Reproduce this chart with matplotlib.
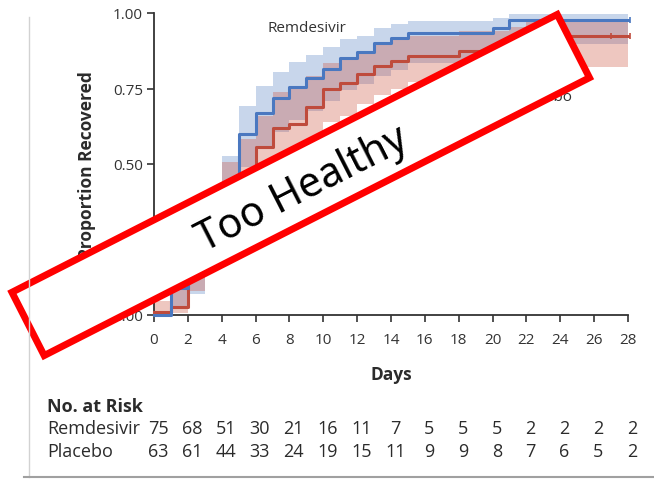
import numpy as np
import matplotlib
matplotlib.use("Agg")
import matplotlib.pyplot as plt
from matplotlib.patches import Polygon
from matplotlib.lines import Line2D

plt.rcParams['font.family'] = ['Open Sans', 'DejaVu Sans']

# Kaplan-Meier style recovery curves, one value per day (step "post")
days = list(range(29))
remdesivir = [0.00, 0.09, 0.15, 0.27, 0.42, 0.60, 0.668, 0.72, 0.755, 0.785,
              0.815, 0.85, 0.87, 0.90, 0.918, 0.935, 0.935, 0.935, 0.935, 0.935,
              0.949, 0.976, 0.976, 0.976, 0.976, 0.976, 0.976, 0.976, 0.976]
remdesivir_hi = [0.01, 0.16, 0.25, 0.38, 0.527, 0.693, 0.757, 0.806, 0.839, 0.861,
                 0.886, 0.914, 0.925, 0.949, 0.964, 0.972, 0.972, 0.972, 0.972, 0.972,
                 0.983, 0.997, 0.997, 0.997, 0.997, 0.997, 0.997, 0.997, 0.997]
remdesivir_lo = [0.00, 0.02, 0.07, 0.17, 0.31, 0.49, 0.56, 0.605, 0.645, 0.675,
                 0.71, 0.745, 0.765, 0.79, 0.81, 0.835, 0.835, 0.835, 0.835, 0.835,
                 0.85, 0.897, 0.897, 0.897, 0.897, 0.897, 0.897, 0.897, 0.897]

placebo = [0.011, 0.025, 0.14, 0.25, 0.40, 0.45, 0.555, 0.62, 0.633, 0.69,
           0.748, 0.768, 0.798, 0.826, 0.842, 0.857, 0.857, 0.857, 0.873, 0.873,
           0.873, 0.905, 0.923, 0.923, 0.923, 0.923, 0.923, 0.923, 0.923]
placebo_hi = [0.047, 0.10, 0.24, 0.36, 0.506, 0.583, 0.66, 0.74, 0.75, 0.79,
              0.835, 0.85, 0.875, 0.90, 0.915, 0.925, 0.925, 0.925, 0.94, 0.94,
              0.94, 0.955, 0.969, 0.969, 0.969, 0.969, 0.969, 0.969, 0.969]
placebo_lo = [0.00, 0.005, 0.08, 0.16, 0.28, 0.33, 0.43, 0.50, 0.52, 0.58,
              0.64, 0.66, 0.70, 0.73, 0.75, 0.77, 0.77, 0.77, 0.79, 0.79,
              0.80, 0.81, 0.82, 0.82, 0.82, 0.82, 0.82, 0.82, 0.82]

x_ticks = list(range(0, 29, 2))
y_ticks = [0.00, 0.25, 0.50, 0.75, 1.00]
y_tick_labels = ["0.00", "0.25", "0.50", "0.75", "1.00"]

risk_days = x_ticks
risk_remdesivir = [75, 68, 51, 30, 21, 16, 11, 7, 5, 5, 5, 2, 2, 2, 2]
risk_placebo = [63, 61, 44, 33, 24, 19, 15, 11, 9, 9, 8, 7, 6, 5, 2]

blue = "#4a78c0"
red = "#bf4b3c"
ink = "#2b2b2b"

W, H = 654, 481
fig = plt.figure(figsize=(W / 100, H / 100), dpi=100)

# main plotting area in pixel terms
left, right, top, bottom = 154, 628, 14, 316
ax = fig.add_axes([left / W, (H - bottom) / H, (right - left) / W, (bottom - top) / H])

ax.fill_between(days, remdesivir_lo, remdesivir_hi, step="post",
                color=(74/255, 120/255, 192/255), alpha=0.30, lw=0, zorder=1)
ax.fill_between(days, placebo_lo, placebo_hi, step="post",
                color=(205/255, 85/255, 65/255), alpha=0.33, lw=0, zorder=2)
ax.step(days, remdesivir, where="post", color=blue, lw=2.2, zorder=4, clip_on=False)
ax.step(days, placebo, where="post", color=red, lw=2.2, zorder=3, clip_on=False)

# censoring marks
ax.plot([28.1], [remdesivir[-1]], marker="|", ms=5, mew=1.2, color=blue, clip_on=False, zorder=5)
ax.plot([27, 28.1], [placebo[-1], placebo[-1]], ls="none", marker="|", ms=5, mew=1.2,
        color=red, clip_on=False, zorder=5)

ax.set_xlim(0, 28)
ax.set_ylim(0, 1.0)
ax.set_xticks(x_ticks)
ax.set_yticks(y_ticks)
ax.set_yticklabels(y_tick_labels)
for s in ("top", "right"):
    ax.spines[s].set_visible(False)
for s in ("left", "bottom"):
    ax.spines[s].set_color("#333333")
    ax.spines[s].set_linewidth(1.3)
ax.tick_params(direction="out", length=5, width=1.2, color="#333333",
               labelsize=11, labelcolor="#333333", pad=3)
ax.tick_params(axis="x", pad=7)
ax.set_xlabel("Days", fontsize=12.5, fontweight="bold", color=ink, labelpad=13)
ax.set_ylabel("Proportion Recovered", fontsize=12.5, fontweight="bold", color=ink, labelpad=12)

ax.text((268 - 154) / 16.93, 0.952, "Remdesivir", fontsize=11, color="#333333",
        ha="left", va="center")
ax.text((573 - 154) / 16.93, (316 - 98) / 302, "Placebo", fontsize=11, color="#333333",
        ha="right", va="center")

# number at risk table
xt = ax.get_xaxis_transform()
def row_y(py):
    return (bottom - py) / (bottom - top)

fig.text(47 / W, 1 - 407 / H, "No. at Risk", fontsize=13, fontweight="bold",
         color=ink, ha="left", va="center")
fig.text(47 / W, 1 - 429 / H, "Remdesivir", fontsize=13, color=ink, ha="left", va="center")
fig.text(47 / W, 1 - 452 / H, "Placebo", fontsize=13, color=ink, ha="left", va="center")
for d, a, b in zip(risk_days, risk_remdesivir, risk_placebo):
    ax.text(d + 0.25, row_y(429), str(a), transform=xt, fontsize=13, color=ink,
            ha="center", va="center", clip_on=False)
    ax.text(d + 0.25, row_y(452), str(b), transform=xt, fontsize=13, color=ink,
            ha="center", va="center", clip_on=False)

# pixel-space overlay: frame lines and the rotated stamp
ov = fig.add_axes([0, 0, 1, 1], zorder=10)
ov.set_xlim(0, W)
ov.set_ylim(H, 0)
ov.axis("off")
ov.patch.set_alpha(0)
ov.add_line(Line2D([29, 29], [18, 478], color="#d2d2d2", lw=1.0))
ov.add_line(Line2D([24, W], [478, 478], color="#a0a0a0", lw=1.5))

cx, cy = 300.7, 186.0
bw, bh = 612, 71
ang = np.deg2rad(27.0)
u = np.array([np.cos(ang), -np.sin(ang)])
v = np.array([np.sin(ang), np.cos(ang)])
c = np.array([cx, cy])
corners = [c - bw / 2 * u - bh / 2 * v, c + bw / 2 * u - bh / 2 * v,
           c + bw / 2 * u + bh / 2 * v, c - bw / 2 * u + bh / 2 * v]
ov.add_patch(Polygon(corners, closed=True, facecolor="white", edgecolor="#ff0000",
                     lw=5.0, joinstyle="miter"))
ov.text(cx + 2, cy + 4, "Too Healthy", rotation=27, rotation_mode="anchor",
        ha="center", va="center", fontsize=29.5, color="black",
        family=["Noto Sans", "DejaVu Sans"])

fig.savefig("out.png", dpi=100)
